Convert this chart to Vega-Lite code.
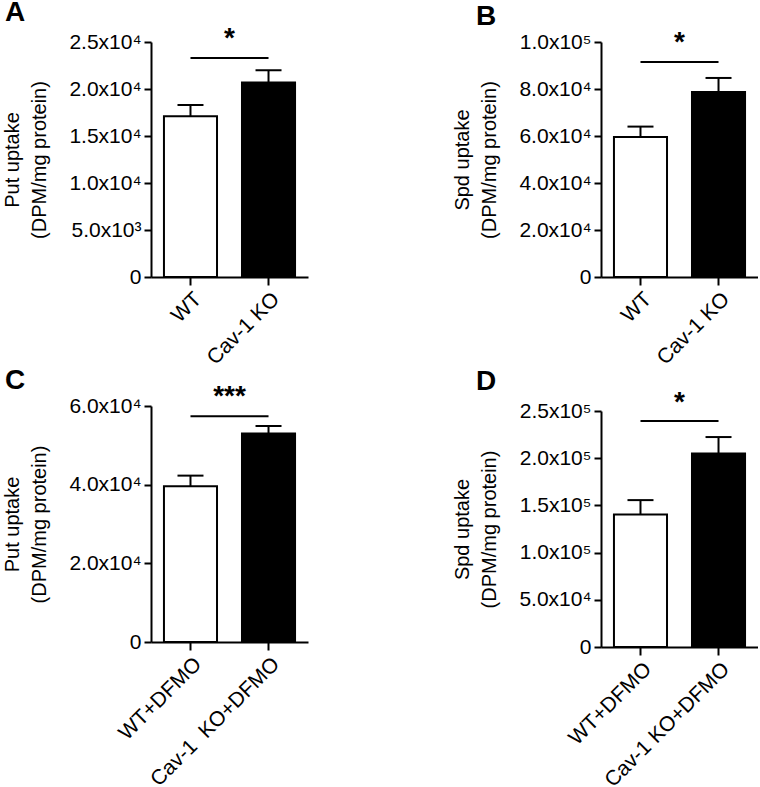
{
  "$schema": "https://vega.github.io/schema/vega-lite/v6.json",
  "background": "white",
  "padding": {"left": 2, "top": -2, "right": 0, "bottom": 0},
  "datasets": {
    "bars": [
      {"panel": "A", "group": "WT", "genotype": "WT", "mean": 17100, "upper": 18300},
      {"panel": "A", "group": "Cav-1 KO", "genotype": "KO", "mean": 20700, "upper": 22000},
      {"panel": "B", "group": "WT", "genotype": "WT", "mean": 59600, "upper": 64000},
      {"panel": "B", "group": "Cav-1 KO", "genotype": "KO", "mean": 78700, "upper": 84700},
      {"panel": "C", "group": "WT+DFMO", "genotype": "WT", "mean": 39600, "upper": 42300},
      {"panel": "C", "group": "Cav-1\u00a0 KO+DFMO", "genotype": "KO", "mean": 53000, "upper": 54900},
      {"panel": "D", "group": "WT+DFMO", "genotype": "WT", "mean": 140400, "upper": 155600},
      {"panel": "D", "group": "Cav-1 KO+DFMO", "genotype": "KO", "mean": 205100, "upper": 222400}
    ],
    "sig": [
      {"panel": "A", "from": "WT", "to": "Cav-1 KO", "bracket": 23300, "star": 24500, "label": "*"},
      {"panel": "B", "from": "WT", "to": "Cav-1 KO", "bracket": 91500, "star": 96000, "label": "*"},
      {"panel": "C", "from": "WT+DFMO", "to": "Cav-1\u00a0 KO+DFMO", "bracket": 57400, "star": 60200, "label": "***"},
      {"panel": "D", "from": "WT+DFMO", "to": "Cav-1 KO+DFMO", "bracket": 239400, "star": 250000, "label": "*"}
    ]
  },
  "config": {
    "view": {"stroke": null},
    "font": "Liberation Sans",
    "axis": {
      "grid": false,
      "domainColor": "black",
      "domainWidth": 2,
      "tickColor": "black",
      "tickWidth": 2,
      "tickSize": 7,
      "labelColor": "black",
      "labelFontSize": 21,
      "labelFont": "Liberation Sans",
      "labelLimit": 300,
      "labelPadding": 3,
      "titleColor": "black",
      "titleFontSize": 20,
      "titleFont": "Liberation Sans",
      "titleFontWeight": "normal",
      "titleLineHeight": 27,
      "titlePadding": 19
    },
    "axisX": {"labelAngle": -45, "tickSize": 8, "labelPadding": 3},
    "title": {"fontSize": 28, "fontWeight": "bold", "anchor": "start", "frame": "bounds", "color": "black", "font": "Liberation Sans", "offset": -2}
  },
  "columns": 2,
  "spacing": {"row": -2, "column": 144},
  "concat": [
    {
      "title": {"text": "A", "dx": 2},
      "width": 157,
      "height": 235,
      "layer": [
        {
          "data": {"name": "bars"},
          "transform": [{"filter": "datum.panel == 'A'"}],
          "mark": {"type": "bar", "stroke": "black", "strokeWidth": 2},
          "encoding": {
            "x": {"field": "group", "type": "nominal", "sort": null, "scale": {"paddingInner": 0.32, "paddingOuter": 0.166}, "axis": {"title": null}},
            "y": {"field": "mean", "type": "quantitative", "scale": {"domain": [0, 25000], "nice": false},
              "axis": {"values": [0, 5000, 10000, 15000, 20000, 25000], "title": ["Put uptake", "(DPM/mg protein)"],
                "labelExpr": "datum.value == 0 ? '0' : format(datum.value / pow(10, floor(log(datum.value)/LN10 + 1e-9)), '.1f') + 'x10' + (floor(log(datum.value)/LN10 + 1e-9) == 3 ? '³' : floor(log(datum.value)/LN10 + 1e-9) == 4 ? '⁴' : '⁵')"}},
            "fill": {"field": "genotype", "type": "nominal", "scale": {"domain": ["WT", "KO"], "range": ["white", "black"]}, "legend": null}
          }
        },
        {
          "data": {"name": "bars"},
          "transform": [{"filter": "datum.panel == 'A'"}],
          "mark": {"type": "rule", "color": "black", "strokeWidth": 2},
          "encoding": {"x": {"field": "group", "type": "nominal", "sort": null}, "y": {"field": "mean", "type": "quantitative"}, "y2": {"field": "upper"}}
        },
        {
          "data": {"name": "bars"},
          "transform": [{"filter": "datum.panel == 'A'"}],
          "mark": {"type": "tick", "color": "black", "thickness": 2, "size": 26, "opacity": 1},
          "encoding": {"x": {"field": "group", "type": "nominal", "sort": null}, "y": {"field": "upper", "type": "quantitative"}}
        },
        {
          "data": {"name": "sig"},
          "transform": [{"filter": "datum.panel == 'A'"}],
          "mark": {"type": "rule", "color": "black", "strokeWidth": 2},
          "encoding": {"x": {"field": "from", "type": "nominal", "sort": null}, "x2": {"field": "to"}, "y": {"field": "bracket", "type": "quantitative"}}
        },
        {
          "data": {"name": "sig"},
          "transform": [{"filter": "datum.panel == 'A'"}],
          "mark": {"type": "text", "fontSize": 28, "fontWeight": "bold", "baseline": "alphabetic", "align": "center", "dx": 39, "color": "black"},
          "encoding": {"x": {"field": "from", "type": "nominal", "sort": null}, "y": {"field": "star", "type": "quantitative"}, "text": {"field": "label"}}
        }
      ]
    },
    {
      "title": {"text": "B", "dx": 23},
      "width": 157,
      "height": 235,
      "layer": [
        {
          "data": {"name": "bars"},
          "transform": [{"filter": "datum.panel == 'B'"}],
          "mark": {"type": "bar", "stroke": "black", "strokeWidth": 2},
          "encoding": {
            "x": {"field": "group", "type": "nominal", "sort": null, "scale": {"paddingInner": 0.32, "paddingOuter": 0.166}, "axis": {"title": null}},
            "y": {"field": "mean", "type": "quantitative", "scale": {"domain": [0, 100000], "nice": false},
              "axis": {"values": [0, 20000, 40000, 60000, 80000, 100000], "title": ["Spd uptake", "(DPM/mg protein)"],
                "labelExpr": "datum.value == 0 ? '0' : format(datum.value / pow(10, floor(log(datum.value)/LN10 + 1e-9)), '.1f') + 'x10' + (floor(log(datum.value)/LN10 + 1e-9) == 3 ? '³' : floor(log(datum.value)/LN10 + 1e-9) == 4 ? '⁴' : '⁵')"}},
            "fill": {"field": "genotype", "type": "nominal", "scale": {"domain": ["WT", "KO"], "range": ["white", "black"]}, "legend": null}
          }
        },
        {
          "data": {"name": "bars"},
          "transform": [{"filter": "datum.panel == 'B'"}],
          "mark": {"type": "rule", "color": "black", "strokeWidth": 2},
          "encoding": {"x": {"field": "group", "type": "nominal", "sort": null}, "y": {"field": "mean", "type": "quantitative"}, "y2": {"field": "upper"}}
        },
        {
          "data": {"name": "bars"},
          "transform": [{"filter": "datum.panel == 'B'"}],
          "mark": {"type": "tick", "color": "black", "thickness": 2, "size": 26, "opacity": 1},
          "encoding": {"x": {"field": "group", "type": "nominal", "sort": null}, "y": {"field": "upper", "type": "quantitative"}}
        },
        {
          "data": {"name": "sig"},
          "transform": [{"filter": "datum.panel == 'B'"}],
          "mark": {"type": "rule", "color": "black", "strokeWidth": 2},
          "encoding": {"x": {"field": "from", "type": "nominal", "sort": null}, "x2": {"field": "to"}, "y": {"field": "bracket", "type": "quantitative"}}
        },
        {
          "data": {"name": "sig"},
          "transform": [{"filter": "datum.panel == 'B'"}],
          "mark": {"type": "text", "fontSize": 28, "fontWeight": "bold", "baseline": "alphabetic", "align": "center", "dx": 39, "color": "black"},
          "encoding": {"x": {"field": "from", "type": "nominal", "sort": null}, "y": {"field": "star", "type": "quantitative"}, "text": {"field": "label"}}
        }
      ]
    },
    {
      "title": {"text": "C", "dx": 2, "offset": -12},
      "width": 157,
      "height": 236,
      "layer": [
        {
          "data": {"name": "bars"},
          "transform": [{"filter": "datum.panel == 'C'"}],
          "mark": {"type": "bar", "stroke": "black", "strokeWidth": 2},
          "encoding": {
            "x": {"field": "group", "type": "nominal", "sort": null, "scale": {"paddingInner": 0.32, "paddingOuter": 0.166}, "axis": {"title": null}},
            "y": {"field": "mean", "type": "quantitative", "scale": {"domain": [0, 60000], "nice": false},
              "axis": {"values": [0, 20000, 40000, 60000], "title": ["Put uptake", "(DPM/mg protein)"],
                "labelExpr": "datum.value == 0 ? '0' : format(datum.value / pow(10, floor(log(datum.value)/LN10 + 1e-9)), '.1f') + 'x10' + (floor(log(datum.value)/LN10 + 1e-9) == 3 ? '³' : floor(log(datum.value)/LN10 + 1e-9) == 4 ? '⁴' : '⁵')"}},
            "fill": {"field": "genotype", "type": "nominal", "scale": {"domain": ["WT", "KO"], "range": ["white", "black"]}, "legend": null}
          }
        },
        {
          "data": {"name": "bars"},
          "transform": [{"filter": "datum.panel == 'C'"}],
          "mark": {"type": "rule", "color": "black", "strokeWidth": 2},
          "encoding": {"x": {"field": "group", "type": "nominal", "sort": null}, "y": {"field": "mean", "type": "quantitative"}, "y2": {"field": "upper"}}
        },
        {
          "data": {"name": "bars"},
          "transform": [{"filter": "datum.panel == 'C'"}],
          "mark": {"type": "tick", "color": "black", "thickness": 2, "size": 26, "opacity": 1},
          "encoding": {"x": {"field": "group", "type": "nominal", "sort": null}, "y": {"field": "upper", "type": "quantitative"}}
        },
        {
          "data": {"name": "sig"},
          "transform": [{"filter": "datum.panel == 'C'"}],
          "mark": {"type": "rule", "color": "black", "strokeWidth": 2},
          "encoding": {"x": {"field": "from", "type": "nominal", "sort": null}, "x2": {"field": "to"}, "y": {"field": "bracket", "type": "quantitative"}}
        },
        {
          "data": {"name": "sig"},
          "transform": [{"filter": "datum.panel == 'C'"}],
          "mark": {"type": "text", "fontSize": 28, "fontWeight": "bold", "baseline": "alphabetic", "align": "center", "dx": 39, "color": "black"},
          "encoding": {"x": {"field": "from", "type": "nominal", "sort": null}, "y": {"field": "star", "type": "quantitative"}, "text": {"field": "label"}}
        }
      ]
    },
    {
      "title": {"text": "D", "dx": 23, "offset": -7},
      "width": 157,
      "height": 241,
      "layer": [
        {
          "data": {"name": "bars"},
          "transform": [{"filter": "datum.panel == 'D'"}],
          "mark": {"type": "bar", "stroke": "black", "strokeWidth": 2},
          "encoding": {
            "x": {"field": "group", "type": "nominal", "sort": null, "scale": {"paddingInner": 0.32, "paddingOuter": 0.166}, "axis": {"title": null}},
            "y": {"field": "mean", "type": "quantitative", "scale": {"domain": [0, 250000], "nice": false, "range": [241, 5]},
              "axis": {"values": [0, 50000, 100000, 150000, 200000, 250000], "title": ["Spd uptake", "(DPM/mg protein)"],
                "labelExpr": "datum.value == 0 ? '0' : format(datum.value / pow(10, floor(log(datum.value)/LN10 + 1e-9)), '.1f') + 'x10' + (floor(log(datum.value)/LN10 + 1e-9) == 3 ? '³' : floor(log(datum.value)/LN10 + 1e-9) == 4 ? '⁴' : '⁵')"}},
            "fill": {"field": "genotype", "type": "nominal", "scale": {"domain": ["WT", "KO"], "range": ["white", "black"]}, "legend": null}
          }
        },
        {
          "data": {"name": "bars"},
          "transform": [{"filter": "datum.panel == 'D'"}],
          "mark": {"type": "rule", "color": "black", "strokeWidth": 2},
          "encoding": {"x": {"field": "group", "type": "nominal", "sort": null}, "y": {"field": "mean", "type": "quantitative"}, "y2": {"field": "upper"}}
        },
        {
          "data": {"name": "bars"},
          "transform": [{"filter": "datum.panel == 'D'"}],
          "mark": {"type": "tick", "color": "black", "thickness": 2, "size": 26, "opacity": 1},
          "encoding": {"x": {"field": "group", "type": "nominal", "sort": null}, "y": {"field": "upper", "type": "quantitative"}}
        },
        {
          "data": {"name": "sig"},
          "transform": [{"filter": "datum.panel == 'D'"}],
          "mark": {"type": "rule", "color": "black", "strokeWidth": 2},
          "encoding": {"x": {"field": "from", "type": "nominal", "sort": null}, "x2": {"field": "to"}, "y": {"field": "bracket", "type": "quantitative"}}
        },
        {
          "data": {"name": "sig"},
          "transform": [{"filter": "datum.panel == 'D'"}],
          "mark": {"type": "text", "fontSize": 28, "fontWeight": "bold", "baseline": "alphabetic", "align": "center", "dx": 39, "color": "black"},
          "encoding": {"x": {"field": "from", "type": "nominal", "sort": null}, "y": {"field": "star", "type": "quantitative"}, "text": {"field": "label"}}
        }
      ]
    }
  ]
}
